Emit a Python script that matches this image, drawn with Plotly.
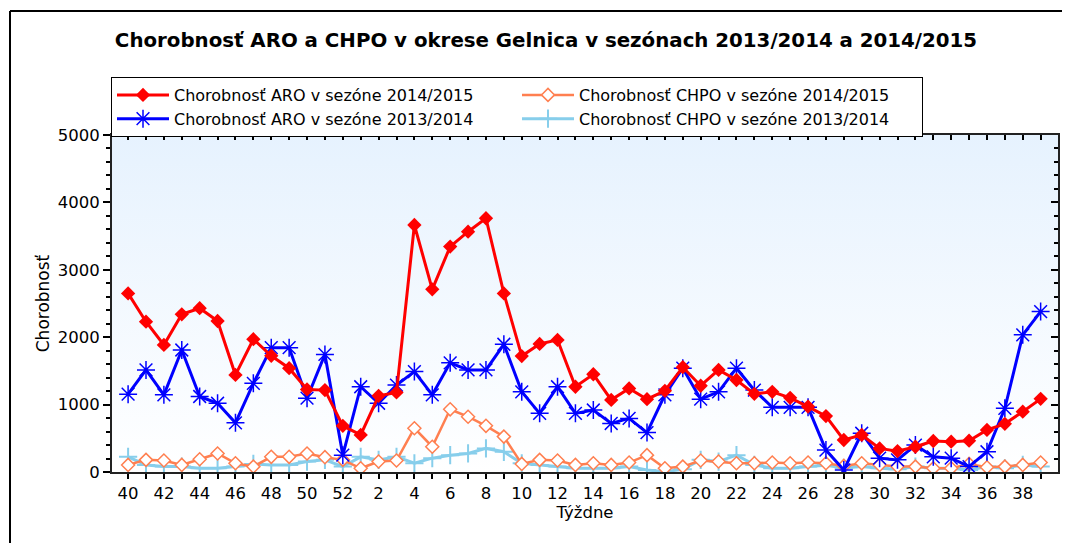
import plotly.graph_objects as go
import base64

weeks = list(range(40, 53)) + list(range(1, 40))

aro_1415 = [2650, 2230, 1885, 2340, 2430, 2240, 1440, 1970, 1725, 1540, 1225, 1215, 685,
            550, 1130, 1180, 3665, 2710, 3345, 3565, 3765, 2650, 1720,
            1900, 1960, 1265, 1450, 1070, 1240, 1080, 1205, 1555, 1280,
            1515, 1365, 1160, 1190, 1100, 970, 830, 475, 550, 350,
            310, 375, 460, 450, 465, 625, 715, 895, 1085]
aro_1314 = [1155, 1515, 1145, 1810, 1120, 1020, 730, 1315, 1845, 1845, 1095, 1745, 250,
            1265, 1020, 1290, 1490, 1145, 1620, 1515, 1515, 1895, 1190,
            870, 1265, 870, 920, 720, 795, 585, 1145, 1540, 1080,
            1190, 1540, 1215, 960, 960, 960, 325, 30, 575, 205,
            180, 400, 225, 205, 80, 300, 945, 2035, 2380]
chpo_1415 = [105, 180, 170, 105, 190, 275, 130, 80, 225, 225, 275, 220, 180,
             55, 155, 170, 650, 375, 930, 820, 685, 525, 120,
             180, 170, 105, 130, 105, 140, 250, 55, 80, 170,
             155, 130, 130, 140, 130, 140, 130, 90, 130, 105,
             80, 80, 55, 55, 120, 70, 80, 105, 140]
chpo_1314 = [225, 105, 80, 80, 55, 55, 80, 120, 105, 105, 155, 180, 80,
             225, 180, 225, 130, 205, 250, 275, 350, 300, 130,
             105, 80, 55, 55, 55, 80, 30, 5, 40, 180,
             155, 250, 105, 55, 55, 80, 100, 60, 80, 55,
             40, 80, 55, 55, 30, 80, 55, 105, 80]

names = {
    "aro_1415": "Chorobnosť ARO v sezóne 2014/2015",
    "chpo_1415": "Chorobnosť CHPO v sezóne 2014/2015",
    "aro_1314": "Chorobnosť ARO v sezóne 2013/2014",
    "chpo_1314": "Chorobnosť CHPO v sezóne 2013/2014",
}

x = list(range(len(weeks)))
ticktext = [str(w) if i % 2 == 0 else "" for i, w in enumerate(weeks)]
XRANGE = [-0.9, 51.97]
YRANGE = [0, 5000]

FONT = "DejaVu Sans, Verdana, sans-serif"

fig = go.Figure()
fig.add_trace(go.Scatter(
    x=x, y=chpo_1314, name=names["chpo_1314"], legendrank=4, mode="lines+markers",
    line=dict(color="#87CEEB", width=3),
    marker=dict(symbol="cross-thin-open", size=13, line=dict(color="#87CEEB", width=2))))
fig.add_trace(go.Scatter(
    x=x, y=chpo_1415, name=names["chpo_1415"], legendrank=2, mode="lines+markers",
    line=dict(color="#FF7F50", width=2.5),
    marker=dict(symbol="diamond", size=10, color="white", line=dict(color="#FF7F50", width=1.5))))
fig.add_trace(go.Scatter(
    x=x, y=aro_1314, name=names["aro_1314"], legendrank=3, mode="lines+markers",
    line=dict(color="#0000FF", width=3),
    marker=dict(symbol="asterisk-open", size=15, line=dict(color="#0000FF", width=1.5))))
fig.add_trace(go.Scatter(
    x=x, y=aro_1415, name=names["aro_1415"], legendrank=1, mode="lines+markers",
    line=dict(color="#FF0000", width=3),
    marker=dict(symbol="diamond", size=11, color="#FF0000")))
# empty helper traces so the mirrored tick axes get drawn
fig.add_trace(go.Scatter(x=[], y=[], xaxis="x2", yaxis="y", showlegend=False, hoverinfo="skip"))
fig.add_trace(go.Scatter(x=[], y=[], xaxis="x", yaxis="y2", showlegend=False, hoverinfo="skip"))

svg = ('<svg xmlns="http://www.w3.org/2000/svg" width="100" height="100" preserveAspectRatio="none">'
       '<defs><linearGradient id="g" x1="0" y1="0" x2="0" y2="1">'
       '<stop offset="0" stop-color="#E6F2FE"/><stop offset="1" stop-color="#FFFFFF"/>'
       '</linearGradient></defs><rect width="100" height="100" fill="url(#g)"/></svg>')
src = "data:image/svg+xml;base64," + base64.b64encode(svg.encode()).decode()

OFF = 8  # page body margin
W, H = 1070 - OFF, 543 - OFF
L, T = 112 - OFF, 135 - OFF
R = W - (1058 - OFF)
B = H - (472 - OFF)
pw, ph = W - L - R, H - T - B

def px(xs):
    return (xs - OFF - L) / pw

def py(ys):
    return (H - B - (ys - OFF)) / ph

fig.update_layout(
    width=W, height=H,
    margin=dict(l=L, r=R, t=T, b=B, autoexpand=False),
    paper_bgcolor="white", plot_bgcolor="white",
    font=dict(family=FONT, size=15, color="black"),
    title=dict(text="<b>Chorobnosť ARO a CHPO v okrese Gelnica v sezónach 2013/2014 a 2014/2015</b>",
               x=(546 - OFF) / W, xanchor="center", y=1 - (40 - OFF) / H, yanchor="middle",
               font=dict(family=FONT, size=19.8, color="black")),
    showlegend=True,
    legend=dict(orientation="h", x=px(111), y=py(77), xanchor="left", yanchor="top",
                entrywidth=338, entrywidthmode="pixels",
                bordercolor="black", borderwidth=1, bgcolor="white",
                font=dict(family=FONT, size=16), itemwidth=52, tracegroupgap=0),
    images=[dict(source=src, xref="paper", yref="paper", x=0, y=1, sizex=1, sizey=1,
                 xanchor="left", yanchor="top", sizing="stretch", layer="below")],
    shapes=[
        dict(type="line", xref="paper", yref="paper", x0=px(10), x1=px(1080), y0=py(11), y1=py(11),
             line=dict(color="black", width=2)),
        dict(type="line", xref="paper", yref="paper", x0=px(10), x1=px(10), y0=py(11), y1=py(560),
             line=dict(color="black", width=2)),
    ],
    xaxis2=dict(overlaying="x", side="top", anchor="y", range=XRANGE, tickmode="array",
                tickvals=x, ticks="inside", ticklen=5, tickcolor="black", tickwidth=1.5,
                showticklabels=False, showline=False, showgrid=False, zeroline=False),
    yaxis2=dict(overlaying="y", side="right", anchor="x", range=YRANGE, dtick=1000, tick0=0,
                ticks="inside", ticklen=7, tickcolor="black", tickwidth=1.5,
                minor=dict(dtick=200, ticks="inside", ticklen=4, tickcolor="black", tickwidth=1.5),
                showticklabels=False, showline=False, showgrid=False, zeroline=False),
)
fig.update_layout(
    xaxis=dict(
        range=XRANGE, tickmode="array", tickvals=x, ticktext=ticktext,
        ticks="outside", ticklen=5, tickcolor="black", tickwidth=1.5,
        showline=True, linecolor="#222", linewidth=2, mirror=True,
        showgrid=False, zeroline=False,
        title=dict(text="Týždne", font=dict(family=FONT, size=16.5), standoff=5),
        tickfont=dict(family=FONT, size=16.5),
    ),
    yaxis=dict(
        range=YRANGE, dtick=1000, tick0=0,
        ticks="outside", ticklen=7, tickcolor="black", tickwidth=1.5,
        minor=dict(dtick=200, ticks="outside", ticklen=4, tickcolor="black", tickwidth=1.5),
        showline=True, linecolor="#222", linewidth=2, mirror=True,
        showgrid=False, zeroline=False,
        title=dict(text="Chorobnosť", font=dict(family=FONT, size=17), standoff=4),
        tickfont=dict(family=FONT, size=16.5),
    ),
)

fig.write_html("out.html")
